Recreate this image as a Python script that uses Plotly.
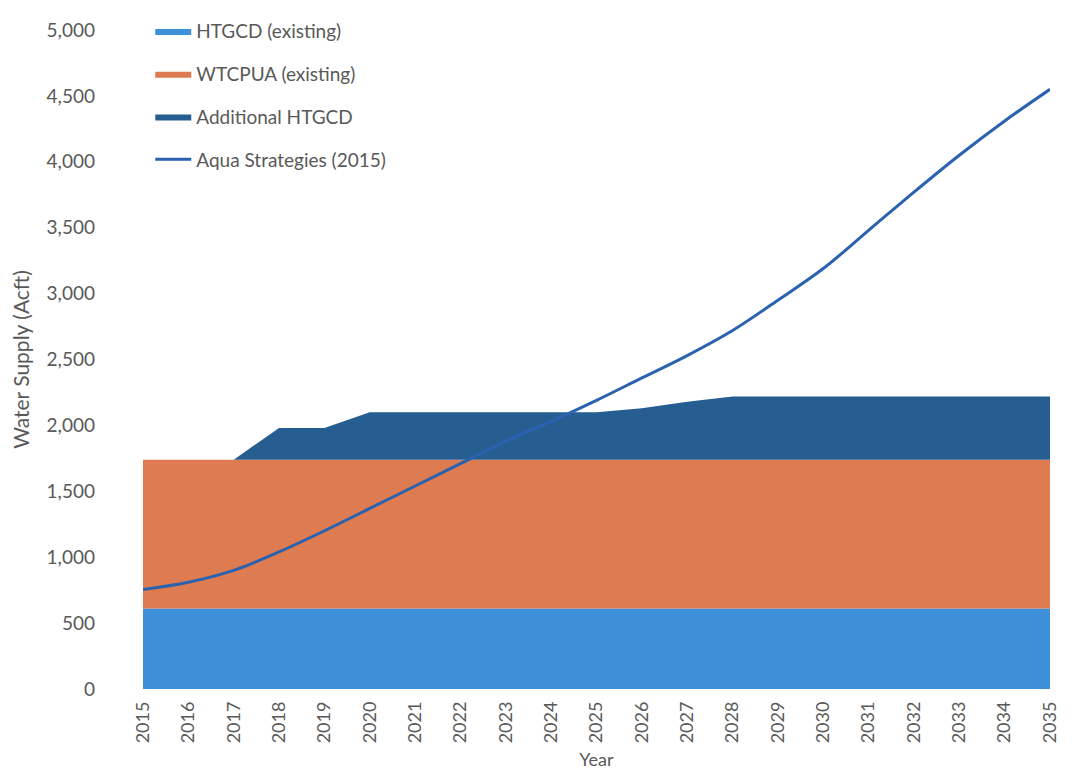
import plotly.graph_objects as go

years = list(range(2015, 2036))
htgcd_existing = [610] * 21
wtcpua_existing = [1130] * 21
additional_htgcd = [0, 0, 0, 240, 240, 360, 360, 360, 360, 360, 360,
                    390, 440, 480, 480, 480, 480, 480, 480, 480, 480]
aqua_strategies = [755, 810, 900, 1040, 1200, 1370, 1540, 1710, 1880, 2030, 2190,
                   2360, 2530, 2720, 2950, 3190, 3480, 3770, 4050, 4310, 4550]

FONT = "Lato"
GREY = "#595959"

fig = go.Figure()

fig.add_trace(go.Scatter(
    x=years, y=htgcd_existing, name="HTGCD (existing)", stackgroup="one",
    mode="lines", line=dict(width=0, color="#3d8fd7"), fillcolor="#3d8fd7",
    legendgroup="a",
))
fig.add_trace(go.Scatter(
    x=years, y=wtcpua_existing, name="WTCPUA (existing)", stackgroup="one",
    mode="lines", line=dict(width=0, color="#de7b50"), fillcolor="#de7b50",
    legendgroup="b",
))
fig.add_trace(go.Scatter(
    x=years, y=additional_htgcd, name="Additional HTGCD", stackgroup="one",
    mode="lines", line=dict(width=0, color="#265e92"), fillcolor="#265e92",
    legendgroup="c",
))
fig.add_trace(go.Scatter(
    x=years, y=aqua_strategies, name="Aqua Strategies (2015)",
    mode="lines", line=dict(color="#2a62b0", width=3, shape="spline"),
    legendgroup="d",
))

# the page body adds an 8px margin all round, so keep the figure 16px smaller
fig.update_layout(
    width=1056,
    height=765,
    margin=dict(l=135, r=4, t=14, b=84),
    paper_bgcolor="white",
    plot_bgcolor="white",
    font=dict(family=FONT, size=19, color=GREY),
    showlegend=True,
    legend=dict(
        x=0.008, y=1.027, xanchor="left", yanchor="top",
        bgcolor="rgba(0,0,0,0)",
        font=dict(family=FONT, size=19, color=GREY),
        tracegroupgap=15,
        traceorder="grouped",
        itemwidth=36,
    ),
    xaxis=dict(
        range=[2015, 2035],
        tickvals=years,
        ticktext=[str(y) for y in years],
        tickangle=-90,
        showgrid=False,
        zeroline=False,
        showline=False,
        ticks="",
        ticklabelstandoff=8,
        ticklabeloverflow="allow",
        tickfont=dict(size=18),
        title=dict(text="Year", font=dict(size=18, color=GREY), standoff=11),
    ),
    yaxis=dict(
        range=[0, 5000],
        tickvals=list(range(0, 5001, 500)),
        tickformat=",",
        showgrid=False,
        zeroline=False,
        showline=False,
        ticks="",
        ticklabelstandoff=47,
        title=dict(text="Water Supply (Acft)", font=dict(size=21, color=GREY), standoff=12),
    ),
)

fig.write_html("out.html")
